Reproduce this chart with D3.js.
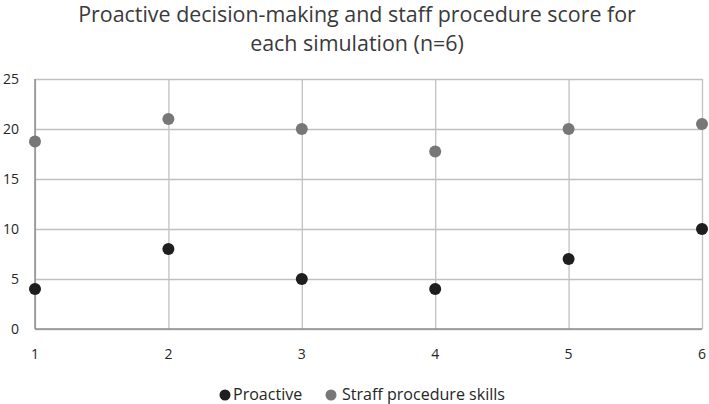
<!DOCTYPE html>
<html>
<head>
<meta charset="utf-8">
<script src="https://cdn.jsdelivr.net/npm/d3@7"></script>
<style>
  body { margin: 0; background: #fff; }
  svg text { font-family: "Open Sans", Lato, sans-serif; fill: #262626; }
</style>
</head>
<body>
<div id="chart"></div>
<script>
// simulations on x, scores on y
var simulations = [1, 2, 3, 4, 5, 6];
var proactive = [4, 8, 5, 4, 7, 10];
var staffProcedure = [18.75, 21, 20, 17.75, 20, 20.5];
var yTicks = [0, 5, 10, 15, 20, 25];
var titleLines = ['Proactive decision-making and staff procedure score for', 'each simulation (n=6)'];

var series = [
  {name: 'Proactive', values: proactive, color: '#1e1e1e'},
  {name: 'Straff procedure skills', values: staffProcedure, color: '#777777'}
];

var width = 709, height = 404;
var margin = {top: 79, right: 7, bottom: 75, left: 35};

var svg = d3.select('#chart').append('svg')
  .attr('width', width)
  .attr('height', height);

var x = d3.scaleLinear()
  .domain(d3.extent(simulations))
  .range([margin.left, width - margin.right]);

var y = d3.scaleLinear()
  .domain([0, 25])
  .range([height - margin.bottom, margin.top]);

// title, sized so the first line is as wide as in the original (~558px)
var title = svg.append('g');
title.selectAll('text')
  .data(titleLines)
  .enter().append('text')
  .attr('x', 357)
  .attr('y', (d, i) => 22 + i * 29)
  .attr('text-anchor', 'middle')
  .style('font-size', '20px')
  .style('fill', '#3a3a3a')
  .text(d => d);
var w0 = title.select('text').node().getComputedTextLength();
title.selectAll('text').style('font-size', (20 * 558 / w0) + 'px');

// horizontal grid
svg.append('g')
  .attr('transform', 'translate(' + margin.left + ',0)')
  .call(d3.axisLeft(y).tickValues(yTicks).tickSize(-(width - margin.left - margin.right)).tickFormat(''))
  .call(g => g.select('.domain').remove())
  .selectAll('line').attr('stroke', '#c0c0c0').attr('stroke-width', 1.3);

// vertical grid
svg.append('g')
  .attr('transform', 'translate(0,' + margin.top + ')')
  .call(d3.axisBottom(x).tickValues(simulations).tickSize(height - margin.top - margin.bottom).tickFormat(''))
  .call(g => g.select('.domain').remove())
  .selectAll('line').attr('stroke', '#c0c0c0').attr('stroke-width', 1.3);

// axes lines (darker)
svg.append('line')
  .attr('x1', x(1)).attr('x2', x(1))
  .attr('y1', y(0)).attr('y2', y(25))
  .attr('stroke', '#8f8f8f').attr('stroke-width', 1.5);
svg.append('line')
  .attr('x1', x(1)).attr('x2', x(6))
  .attr('y1', y(0)).attr('y2', y(0))
  .attr('stroke', '#8f8f8f').attr('stroke-width', 1.5);

// tick labels
svg.append('g').selectAll('text')
  .data(yTicks)
  .enter().append('text')
  .attr('x', 19)
  .attr('y', d => y(d) + 5)
  .attr('text-anchor', 'end')
  .style('font-size', '14px')
  .text(d => d);

svg.append('g').selectAll('text')
  .data(simulations)
  .enter().append('text')
  .attr('x', d => x(d))
  .attr('y', 359)
  .attr('text-anchor', 'middle')
  .style('font-size', '14px')
  .text(d => d);

// points
series.forEach(s => {
  svg.append('g').selectAll('circle')
    .data(s.values)
    .enter().append('circle')
    .attr('cx', (d, i) => x(simulations[i]))
    .attr('cy', d => y(d))
    .attr('r', 6)
    .attr('fill', s.color);
});

// legend
var legend = svg.append('g');
var legX = [225, 331];
series.forEach((s, i) => {
  legend.append('circle')
    .attr('cx', legX[i]).attr('cy', 395).attr('r', 5.5)
    .attr('fill', s.color);
  legend.append('text')
    .attr('class', 'leg-label')
    .attr('x', legX[i] + (i ? 11 : 8)).attr('y', 400)
    .style('font-size', '16px')
    .text(s.name);
});
var wl = legend.selectAll('.leg-label').nodes()[1].getComputedTextLength();
legend.selectAll('.leg-label').style('font-size', (16 * 163 / wl) + 'px');
</script>
</body>
</html>
